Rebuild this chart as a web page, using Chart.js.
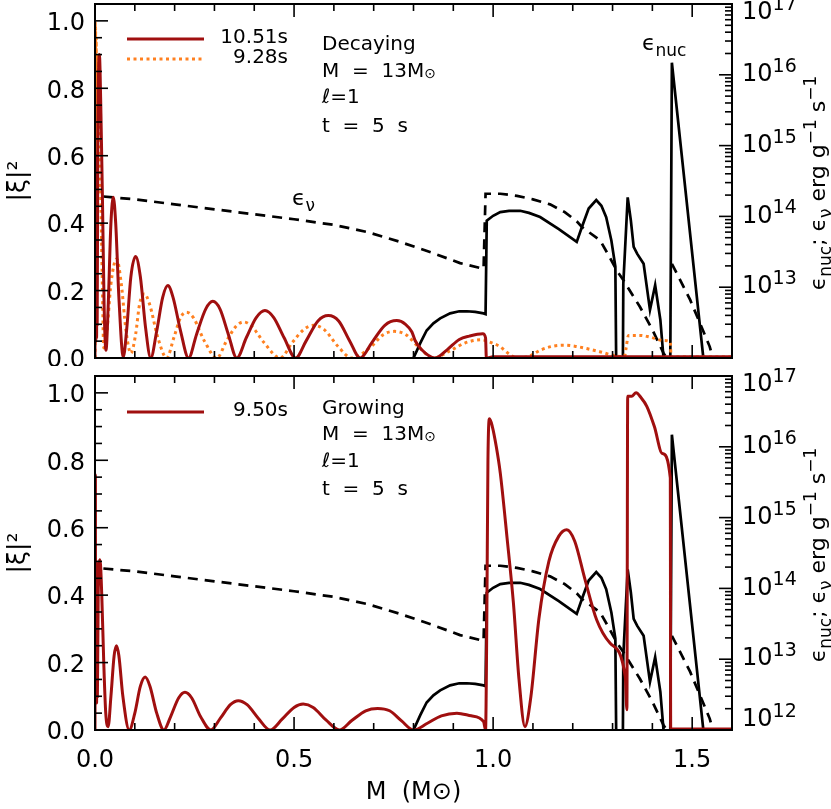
<!DOCTYPE html>
<html>
<head>
<meta charset="utf-8">
<script src="https://cdn.jsdelivr.net/npm/chart.js@4.4.1/dist/chart.umd.min.js"></script>
<style>
  body { margin: 0; background: #fff; width: 831px; height: 809px; overflow: hidden; position: relative; }
  canvas { position: absolute; left: 0; }
  #top { top: 0; }
  #bot { top: 366px; }
</style>
</head>
<body>
<canvas id="top" width="831" height="366"></canvas>
<canvas id="bot" width="831" height="443"></canvas>
<script>
// tick labels
const xTicks = [0, 0.5, 1.0, 1.5];
const yTicks = [0, 0.2, 0.4, 0.6, 0.8, 1.0];
const rightExpTop = [13, 14, 15, 16, 17];
const rightExpBot = [12, 13, 14, 15, 16, 17];

// |xi|^2, decaying mode 10.51s (top panel)
const redTopX = [0, 0.0005, 0.001, 0.0015, 0.002, 0.0025, 0.003, 0.0035, 0.004, 0.005, 0.0055, 0.007, 0.011,
  0.015, 0.019, 0.023, 0.0276,
  0.033, 0.040, 0.046, 0.052, 0.060, 0.071, 0.080, 0.090, 0.102, 0.114, 0.127, 0.140, 0.155, 0.170, 0.183,
  0.196, 0.215, 0.235, 0.255, 0.278, 0.296, 0.314, 0.335, 0.356, 0.380, 0.405, 0.427, 0.449, 0.475, 0.504,
  0.530, 0.560, 0.586, 0.612, 0.640, 0.666, 0.695, 0.728, 0.758, 0.780, 0.796, 0.804, 0.820, 0.854, 0.885,
  0.915, 0.940, 0.974, 0.981, 0.983, 1.000, 1.600];
const redTopY = [0, 0.60, 0.05, 0.60, 0.05, 0.60, 0.06, 0.60, 0.06, 0.60, 0.10, 0.60, 0.90,
  0.72, 0.45, 0.15, 0.023,
  0.15, 0.40, 0.477, 0.40, 0.18, 0.003, 0.09, 0.24, 0.301, 0.24, 0.09, 0.0, 0.08, 0.18, 0.215,
  0.18, 0.08, 0.0, 0.07, 0.145, 0.168, 0.145, 0.07, 0.0, 0.06, 0.12, 0.141, 0.12, 0.06, 0.0,
  0.05, 0.11, 0.126, 0.11, 0.05, 0.0, 0.045, 0.097, 0.111, 0.10, 0.077, 0.052, 0.025, 0.0, 0.025,
  0.055, 0.065, 0.072, 0.06, 0.0, 0.004, 0.004];

// |xi|^2, decaying mode 9.28s (top panel)
const orgTopX = [0, 0.0005, 0.001, 0.0015, 0.002, 0.003, 0.004, 0.005, 0.006, 0.0075, 0.010, 0.014, 0.018,
  0.022, 0.030, 0.040,
  0.0545, 0.066, 0.078, 0.090, 0.102, 0.112, 0.124, 0.137, 0.158, 0.180, 0.198, 0.215, 0.230, 0.247, 0.275,
  0.306, 0.330, 0.355, 0.373, 0.393, 0.425, 0.465, 0.495, 0.525, 0.549, 0.575, 0.610, 0.645, 0.690, 0.725,
  0.752, 0.780, 0.815, 0.850, 0.890, 0.930, 0.972, 0.992, 1.018, 1.040, 1.060, 1.090, 1.118, 1.150, 1.177,
  1.205, 1.235, 1.270, 1.302, 1.330, 1.334, 1.340, 1.369, 1.394, 1.428, 1.445, 1.447, 1.600];
const orgTopY = [0, 1.0, 0.05, 0.98, 0.10, 0.95, 0.30, 0.90, 0.50, 0.80, 0.62, 0.50, 0.25,
  0.03, 0.08, 0.22,
  0.294, 0.22, 0.08, 0.014, 0.07, 0.16, 0.19, 0.16, 0.06, 0.0, 0.06, 0.12, 0.136, 0.12, 0.05,
  0.0, 0.05, 0.095, 0.107, 0.095, 0.045, 0.0, 0.045, 0.085, 0.097, 0.085, 0.035, 0.0, 0.03, 0.07,
  0.079, 0.07, 0.03, 0.0, 0.02, 0.045, 0.054, 0.047, 0.033, 0.012, 0.0, 0.005, 0.023, 0.035, 0.038,
  0.035, 0.028, 0.018, 0.008, 0.004, 0.03, 0.067, 0.067, 0.062, 0.052, 0.047, 0.003, 0.003];

// |xi|^2, growing mode 9.50s (bottom panel)
const redBotX = [0, 0.001, 0.0015, 0.002, 0.0025, 0.003, 0.004, 0.005, 0.006, 0.008, 0.0126, 0.017, 0.022, 0.027, 0.033,
  0.040, 0.048, 0.054, 0.060, 0.070, 0.086, 0.100, 0.114, 0.126, 0.138, 0.155, 0.173, 0.190, 0.210, 0.226,
  0.243, 0.265, 0.291, 0.315, 0.340, 0.360, 0.382, 0.410, 0.440, 0.470, 0.500, 0.523, 0.548, 0.580, 0.614,
  0.645, 0.680, 0.710, 0.740, 0.770, 0.800, 0.835, 0.870, 0.909, 0.945, 0.976, 0.981, 0.984, 0.987, 0.991,
  0.998, 1.008, 1.018, 1.035, 1.051, 1.065, 1.080, 1.095, 1.115, 1.140, 1.165, 1.185, 1.205, 1.230, 1.260,
  1.294, 1.332, 1.336, 1.338, 1.348, 1.359, 1.372, 1.386, 1.405, 1.425, 1.445, 1.446, 1.600];
const redBotY = [0, 0.757, 0.08, 0.50, 0.10, 0.50, 0.08, 0.45, 0.10, 0.40, 0.505, 0.40, 0.20, 0.05, 0.01,
  0.10, 0.22, 0.25, 0.22, 0.10, 0.0, 0.05, 0.13, 0.157, 0.13, 0.05, 0.0, 0.04, 0.095, 0.112,
  0.095, 0.04, 0.0, 0.035, 0.075, 0.087, 0.075, 0.035, 0.0, 0.032, 0.067, 0.077, 0.067, 0.03, 0.0,
  0.028, 0.057, 0.064, 0.057, 0.027, 0.0, 0.02, 0.042, 0.050, 0.042, 0.025, 0.0, 0.30, 0.80, 0.923,
  0.90, 0.84, 0.762, 0.57, 0.376, 0.15, 0.01, 0.10, 0.33, 0.50, 0.575, 0.594, 0.56, 0.45, 0.327,
  0.257, 0.158, 0.06, 0.99, 0.99, 1.0, 0.985, 0.96, 0.90, 0.82, 0.748, 0.003, 0.003];

// eps_nuc (erg g^-1 s^-1), same model in both panels
const nucX = [0.800, 0.817, 0.833, 0.850, 0.867, 0.892, 0.915, 0.934, 0.955, 0.976, 0.981, 0.984, 1.000,
  1.018, 1.040, 1.068, 1.090, 1.118, 1.165, 1.210, 1.223, 1.240, 1.259, 1.272, 1.284, 1.297, 1.307, 1.309,
  1.317, 1.326, 1.327, 1.338, 1.346, 1.353, 1.362, 1.378, 1.394, 1.407, 1.420, 1.428, 1.436, 1.445, 1.449, 1.528];
const nucY = [1.0e12, 1.62e12, 2.45e12, 3.09e12, 3.63e12, 4.27e12, 4.57e12, 4.57e12, 4.47e12, 4.27e12, 4.17e12, 8.71e13, 1.02e14,
  1.15e14, 1.20e14, 1.20e14, 1.12e14, 9.8e13, 6.61e13, 4.37e13, 7.08e13, 1.29e14, 1.70e14, 1.41e14, 9.77e13, 4.57e13, 1.95e13, 1.0e12,
  null, 1.0e12, 1.12e13, 1.86e14, 8.71e13, 3.72e13, 2.95e13, 2.14e13, 4.79e12, 1.07e13, 3.47e12, 1.0e12, null, 1.0e12, 1.48e16, 1.0e12];

// eps_nu (erg g^-1 s^-1)
const nuX = [0.021, 0.100, 0.200, 0.300, 0.400, 0.500, 0.600, 0.683, 0.766, 0.850, 0.917, 0.976, 0.981,
  1.018, 1.060, 1.100, 1.143, 1.180, 1.210, 1.223, 1.269, 1.290, 1.310, 1.327, 1.369, 1.400, 1.428, 1.436,
  1.442, 1.449, 1.495, 1.544, 1.552];
const nuY = [1.91e14, 1.74e14, 1.48e14, 1.26e14, 1.07e14, 9.12e13, 7.59e13, 6.03e13, 4.37e13, 3.02e13, 2.19e13, 1.82e13, 2.09e14,
  2.09e14, 1.95e14, 1.74e14, 1.48e14, 1.15e14, 8.51e13, 7.08e13, 4.57e13, 2.82e13, 1.74e13, 1.26e13, 5.25e12, 2.51e12, 1.17e12, 1.0e12,
  null, 2.14e13, 6.61e12, 1.45e12, 1.0e12];

const RED = '#a00f0f';
const ORANGE = '#ff8020';
const FONT = '"DejaVu Sans", sans-serif';

Chart.defaults.font.family = FONT;
Chart.defaults.color = '#000';

const pts = (xs, ys) => xs.map((x, i) => ({ x: x, y: ys[i] }));

function line(xs, ys, color, width, dash, axis, smooth) {
  return {
    data: pts(xs, ys),
    borderColor: color,
    borderWidth: width,
    borderDash: dash,
    yAxisID: axis,
    fill: false,
    spanGaps: false,
    tension: 0,
    cubicInterpolationMode: smooth ? 'monotone' : 'default'
  };
}

// text with sub/superscripts: parts = [[text, kind], ...]
function partSize(kind, size) {
  if (kind === 'sub' || kind === 'sup') return Math.round(size * 0.75);
  if (kind === 'sun') return Math.round(size * 0.7);
  return size;
}
function richWidth(ctx, parts, size) {
  let w = 0;
  parts.forEach(p => {
    ctx.font = partSize(p[1], size) + 'px ' + FONT;
    w += ctx.measureText(p[0]).width;
  });
  return w;
}
function drawRich(ctx, parts, x, y, size) {
  let cx = x;
  parts.forEach(p => {
    const k = p[1];
    ctx.font = partSize(k, size) + 'px ' + FONT;
    let dy = 0;
    if (k === 'sub') dy = size * 0.28;
    if (k === 'sup') dy = -size * 0.42;
    if (k === 'sun') dy = 1;
    ctx.fillText(p[0], cx, y + dy);
    cx += ctx.measureText(p[0]).width;
  });
}

const panelPlugin = {
  id: 'panel',
  afterDraw(chart, args, o) {
    const ctx = chart.ctx, a = chart.chartArea;
    const sx = chart.scales.x, sl = chart.scales.yL, sr = chart.scales.yR;
    const seg = (x1, y1, x2, y2) => { ctx.beginPath(); ctx.moveTo(x1, y1); ctx.lineTo(x2, y2); ctx.stroke(); };
    ctx.save();
    ctx.strokeStyle = '#000';
    ctx.lineWidth = 1.6;

    // inward ticks, bottom and top
    for (let i = 0; i <= 16; i++) {
      const p = sx.getPixelForValue(i / 10), len = i % 5 === 0 ? 13 : 7;
      seg(p, a.bottom, p, a.bottom - len);
      seg(p, a.top, p, a.top + len);
    }
    // left
    for (let i = 0; i <= 21; i++) {
      const p = sl.getPixelForValue(i * 0.05), len = i % 4 === 0 ? 13 : 7;
      seg(a.left, p, a.left + len, p);
    }
    // right, log
    for (let e = 12; e <= 17; e++) {
      for (let m = 1; m < 10; m++) {
        const v = m * Math.pow(10, e);
        if (v > 1.0001e17) break;
        const p = sr.getPixelForValue(v), len = m === 1 ? 13 : 7;
        seg(a.right, p, a.right - len, p);
      }
    }
    ctx.lineWidth = 2;
    ctx.strokeRect(a.left, a.top, a.right - a.left, a.bottom - a.top);

    ctx.fillStyle = '#000';

    // right tick labels 10^n
    ctx.textAlign = 'left';
    ctx.textBaseline = 'middle';
    o.rightExp.forEach(e => {
      let p = sr.getPixelForValue(Math.pow(10, e));
      p = Math.min(Math.max(p, a.top + 9), a.bottom - 10);
      ctx.font = '24px ' + FONT;
      ctx.fillText('10', a.right + 10, p);
      const w = ctx.measureText('10').width;
      ctx.font = '19px ' + FONT;
      ctx.fillText(String(e), a.right + 10 + w, p - 8);
    });

    // right axis title, reads bottom to top
    ctx.textBaseline = 'alphabetic';
    const title = [['ϵ'], ['nuc', 'sub'], ['; ϵ'], ['ν', 'sub'], [' erg g'], ['−1', 'sup'], [' s'], ['−1', 'sup']];
    ctx.save();
    ctx.translate(825, (a.top + a.bottom) / 2 + 2);
    ctx.rotate(-Math.PI / 2);
    const tw = richWidth(ctx, title, 22);
    drawRich(ctx, title, -tw / 2, 0, 22);
    ctx.restore();

    // legend
    o.legend.forEach(l => {
      const y = a.top + l.dy;
      ctx.strokeStyle = l.color;
      ctx.lineWidth = l.width;
      ctx.setLineDash(l.dash);
      seg(127, y, 204, y);
      ctx.setLineDash([]);
      ctx.font = '20px ' + FONT;
      ctx.textAlign = 'right';
      ctx.textBaseline = 'middle';
      ctx.fillText(l.text, 288, y - 1);
    });

    // annotation block
    ctx.textAlign = 'left';
    ctx.textBaseline = 'alphabetic';
    o.notes.forEach(n => drawRich(ctx, n.parts, 322, a.top + n.dy, 20));

    // curve labels
    (o.curveLabels || []).forEach(c => drawRich(ctx, c.parts, c.x, c.y, 22));

    ctx.restore();
  }
};

function makeChart(id, datasets, padTop, axisH, showX, panel) {
  return new Chart(document.getElementById(id), {
    type: 'line',
    data: { datasets: datasets },
    options: {
      responsive: false,
      animation: false,
      devicePixelRatio: 1,
      layout: { padding: { top: padTop, left: 0, right: 0, bottom: 0 } },
      elements: { point: { radius: 0 } },
      plugins: { legend: { display: false }, tooltip: { enabled: false }, panel: panel },
      scales: {
        x: {
          type: 'linear', position: 'bottom', min: 0, max: 1.6,
          afterBuildTicks: s => { s.ticks = xTicks.map(v => ({ value: v })); },
          afterFit: s => { s.height = axisH; s.paddingLeft = 0; s.paddingRight = 0; },
          grid: { display: false, drawTicks: false },
          border: { display: false },
          ticks: { display: showX, padding: 16, autoSkip: false, maxRotation: 0, font: { size: 24 }, callback: v => v.toFixed(1) },
          title: { display: showX, text: 'M  (M⊙)', font: { size: 24 }, padding: { top: 0, bottom: 2 } }
        },
        yL: {
          type: 'linear', position: 'left', min: 0, max: 1.05,
          afterBuildTicks: s => { s.ticks = yTicks.map(v => ({ value: v })); },
          afterFit: s => { s.width = 95; s.paddingTop = 0; s.paddingBottom = 0; },
          grid: { display: false, drawTicks: false },
          border: { display: false },
          ticks: { padding: 10, labelOffset: 3, font: { size: 24 }, callback: v => v.toFixed(1) },
          title: { display: true, text: '|ξ|²', font: { size: 25 }, padding: { top: 3, bottom: 0 } }
        },
        yR: {
          type: 'logarithmic', position: 'right', min: 1e12, max: 1e17,
          afterFit: s => { s.width = 99; s.paddingTop = 0; s.paddingBottom = 0; },
          grid: { display: false, drawTicks: false },
          border: { display: false },
          ticks: { display: false }
        }
      }
    },
    plugins: [panelPlugin]
  });
}

const nucLine = () => line(nucX, nucY, '#000', 2.7, [], 'yR', false);
const nuLine = () => line(nuX, nuY, '#000', 2.7, [10, 7], 'yR', false);

makeChart('top', [
  line(redTopX, redTopY, RED, 3, [], 'yL', true),
  line(orgTopX, orgTopY, ORANGE, 3, [3, 3.5], 'yL', true),
  nucLine(),
  nuLine()
], 4, 8, false, {
  rightExp: rightExpTop,
  legend: [
    { text: '10.51s', color: RED, width: 3, dash: [], dy: 35 },
    { text: '9.28s', color: ORANGE, width: 3, dash: [3, 3.5], dy: 55 }
  ],
  notes: [
    { dy: 46, parts: [['Decaying']] },
    { dy: 73, parts: [['M  =  13M'], ['⊙', 'sun']] },
    { dy: 99, parts: [['ℓ'], ['=1']] },
    { dy: 128, parts: [['t  =  5  s']] }
  ],
  curveLabels: [
    { x: 292, y: 205, parts: [['ϵ'], ['ν', 'sub']] },
    { x: 642, y: 50, parts: [['ϵ'], ['nuc', 'sub']] }
  ]
});

makeChart('bot', [
  line(redBotX, redBotY, RED, 3, [], 'yL', true),
  nucLine(),
  nuLine()
], 10, 79, true, {
  rightExp: rightExpBot,
  legend: [
    { text: '9.50s', color: RED, width: 3, dash: [], dy: 36 }
  ],
  notes: [
    { dy: 38, parts: [['Growing']] },
    { dy: 64, parts: [['M  =  13M'], ['⊙', 'sun']] },
    { dy: 91, parts: [['ℓ'], ['=1']] },
    { dy: 119, parts: [['t  =  5  s']] }
  ]
});
</script>
</body>
</html>
